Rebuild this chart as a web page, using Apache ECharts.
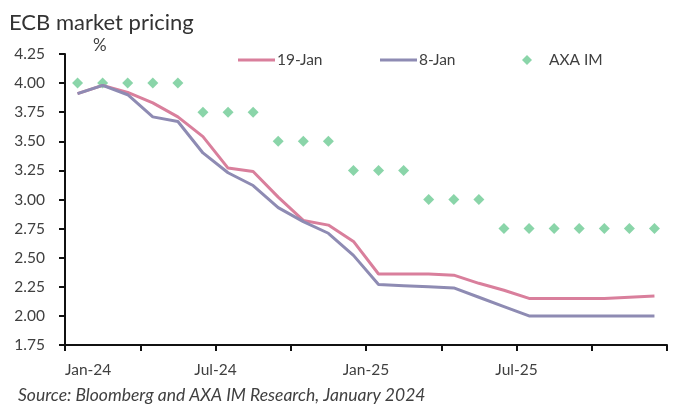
<!DOCTYPE html>
<html>
<head>
<meta charset="UTF-8">
<title>ECB market pricing</title>
<style>
    html,body{margin:0;padding:0;width:100%;height:100%;background:#fff;}
    #wrap{width:673px;height:410px;}
</style>
</head>
<body>
<div id="wrap"></div>
<script src="https://cdn.jsdelivr.net/npm/echarts@6/dist/echarts.min.js"></script>
<script>
    // monthly points, Jan-24 .. Dec-25
    let months = ['Jan-24','Feb-24','Mar-24','Apr-24','May-24','Jun-24','Jul-24','Aug-24','Sep-24','Oct-24','Nov-24','Dec-24',
                  'Jan-25','Feb-25','Mar-25','Apr-25','May-25','Jun-25','Jul-25','Aug-25','Sep-25','Oct-25','Nov-25','Dec-25'];
    let jan19 = [3.91,3.98,3.92,3.83,3.71,3.54,3.27,3.24,3.02,2.82,2.78,2.64,
                 2.36,2.36,2.36,2.35,2.28,2.22,2.15,2.15,2.15,2.15,2.16,2.17];
    let jan8 = [3.91,3.98,3.90,3.71,3.67,3.40,3.23,3.12,2.93,2.81,2.71,2.52,
                2.27,2.26,2.25,2.24,2.16,2.08,2.00,2.00,2.00,2.00,2.00,2.00];
    let axaIM = [4.00,4.00,4.00,4.00,4.00,3.75,3.75,3.75,3.50,3.50,3.50,3.25,
                 3.25,3.25,3.00,3.00,3.00,2.75,2.75,2.75,2.75,2.75,2.75,2.75];
    let tickLabels = ['Jan-24','Jul-24','Jan-25','Jul-25'];

    let font = 'Lato, "Open Sans", sans-serif';
    let txt = '#404040';

    // each month is plotted at its middle on a 0..24 month axis
    function pts(arr){
        return arr.map((v,i)=>[i+0.5, v]);
    }

    let chart = echarts.init(document.getElementById('wrap'));

    let options = {
        backgroundColor: '#fff',
        animation: false,
        title: {
            text: 'ECB market pricing',
            left: 4, top: 7,
            textStyle: {fontFamily: font, fontSize: 22, fontWeight: 'normal', color: '#333'}
        },
        graphic: [
            {type: 'text', left: 93, top: 37, style: {text: '%', fontFamily: font, fontSize: 17, fill: txt}},
            {type: 'text', left: 18, top: 386, style: {text: 'Source: Bloomberg and AXA IM Research, January 2024',
                fontFamily: font, fontSize: 17.5, fontStyle: 'italic', fill: txt}}
        ],
        legend: [
            {left: 233, top: 47, itemWidth: 37, itemHeight: 3, data: [{name: '19-Jan', icon: 'rect'}],
             textStyle: {fontFamily: font, fontSize: 15.5, color: txt, padding: [0,0,0,-3]}},
            {left: 375, top: 47, itemWidth: 37, itemHeight: 3, data: [{name: '8-Jan', icon: 'rect'}],
             textStyle: {fontFamily: font, fontSize: 15.5, color: txt, padding: [0,0,0,-3]}},
            {left: 517, top: 47, itemWidth: 10, itemHeight: 10, data: [{name: 'AXA IM', icon: 'diamond'}],
             textStyle: {fontFamily: font, fontSize: 15.5, color: txt, padding: [0,0,0,12]}}
        ],
        grid: {left: 65, right: 6, top: 54, bottom: 65},
        xAxis: {
            type: 'value',
            min: 0, max: 24, interval: 3,
            splitLine: {show: false},
            axisLine: {lineStyle: {color: '#111', width: 2}},
            axisTick: {length: 6, lineStyle: {color: '#111', width: 2}},
            axisLabel: {
                margin: 17, fontFamily: font, fontSize: 15.5, color: txt,
                alignMinLabel: 'left', showMaxLabel: true,
                formatter: function (v) {
                    return (v % 6 === 0 && v < 24) ? tickLabels[v / 6] : '';
                }
            }
        },
        yAxis: {
            type: 'value',
            min: 1.75, max: 4.25, interval: 0.25,
            splitLine: {show: false},
            axisLine: {show: true, lineStyle: {color: '#111', width: 2}},
            axisTick: {show: true, length: 6, lineStyle: {color: '#111', width: 2}},
            axisLabel: {
                margin: 20, fontFamily: font, fontSize: 15.5, color: txt,
                formatter: v => v.toFixed(2)
            }
        },
        series: [
            {name: '19-Jan', type: 'line', data: pts(jan19), symbol: 'none',
             lineStyle: {width: 3, color: '#D97F9C'}, itemStyle: {color: '#D97F9C'}},
            {name: '8-Jan', type: 'line', data: pts(jan8), symbol: 'none',
             lineStyle: {width: 3, color: '#8E8BB3'}, itemStyle: {color: '#8E8BB3'}},
            {name: 'AXA IM', type: 'scatter', data: pts(axaIM), symbol: 'diamond', symbolSize: 11,
             itemStyle: {color: '#6DCB93'}}
        ]
    };

    chart.setOption(options);
</script>
</body>
</html>
